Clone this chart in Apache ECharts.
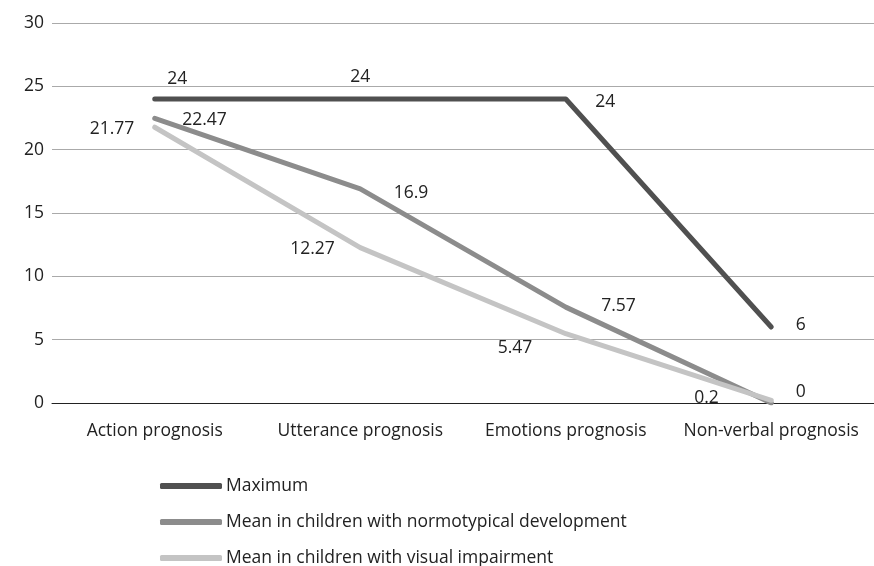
<!DOCTYPE html>
<html>
<head>
    <meta charset="UTF-8">
    <title>Prognosis chart</title>
    <script type="text/javascript" src="https://cdn.jsdelivr.net/npm/echarts@6/dist/echarts.min.js"></script>
    <style>
        body { margin: 0; background: #fff; }
    </style>
</head>
<body>
    <div id="main" style="width: 874px;height:566px;"></div>
    <script type="text/javascript">
        // 数据
        var categories = ['Action prognosis', 'Utterance prognosis', 'Emotions prognosis', 'Non-verbal prognosis'];
        var seriesNames = ['Maximum', 'Mean in children with normotypical development', 'Mean in children with visual impairment'];
        var maximum = [24, 24, 24, 6];
        var normotypical = [22.47, 16.9, 7.57, 0];
        var visualImpairment = [21.77, 12.27, 5.47, 0.2];
        var yTicks = [0, 5, 10, 15, 20, 25, 30];

        var colors = ['#505050', '#8c8c8c', '#c4c4c4'];
        var font = 'Open Sans';
        var fs = 17.5;

        // label placement per point (position, offset)
        var maxLabels = [['right', [7, -20]], ['top', [0, -7]], ['right', [24, 3]], ['right', [19, -2]]];
        var normLabels = [['right', [22, 2]], ['right', [28, 4]], ['right', [30, -1]], ['right', [19, -11]]];
        var visLabels = [['left', [-15, 2]], ['left', [-20, 1]], ['left', [-28, 14]], ['left', [-47, -2]]];

        function build(values, labels) {
            return values.map(function (v, i) {
                return {
                    value: v,
                    label: { position: labels[i][0], offset: labels[i][1] }
                };
            });
        }

        function line(name, values, labels, color) {
            return {
                name: name,
                type: 'line',
                data: build(values, labels),
                symbol: 'circle',
                symbolSize: 1,
                showSymbol: true,
                itemStyle: { color: color },
                lineStyle: { width: 5, color: color, cap: 'round', join: 'round' },
                label: {
                    show: true,
                    color: '#222',
                    fontFamily: font,
                    fontSize: fs
                },
                animation: false
            };
        }

        // one legend per row, stacked at the bottom
        var legends = seriesNames.map(function (name, i) {
            return {
                orient: 'vertical',
                left: 160,
                top: 477 + 36 * i,
                padding: 0,
                itemWidth: 62,
                itemHeight: 6,
                icon: 'roundRect',
                textStyle: { color: '#222', fontSize: fs, fontFamily: font, padding: [0, 0, 0, -1] },
                data: [name]
            };
        });

        var chart = echarts.init(document.getElementById('main'));
        chart.setOption({
            textStyle: { fontFamily: font },
            grid: {
                left: 52,
                right: 0,
                top: 23,
                bottom: 163
            },
            legend: legends,
            xAxis: {
                type: 'category',
                data: categories,
                axisTick: { show: false },
                axisLine: { lineStyle: { color: '#222', width: 1 } },
                axisLabel: { color: '#222', fontSize: fs, margin: 19, interval: 0, fontFamily: font }
            },
            yAxis: {
                type: 'value',
                min: yTicks[0],
                max: yTicks[yTicks.length - 1],
                interval: 5,
                axisLine: { show: false },
                axisTick: { show: false },
                axisLabel: { color: '#222', fontSize: fs, margin: 8, fontFamily: font },
                splitLine: { lineStyle: { color: '#aaa', width: 1 } }
            },
            series: [
                line(seriesNames[0], maximum, maxLabels, colors[0]),
                line(seriesNames[1], normotypical, normLabels, colors[1]),
                line(seriesNames[2], visualImpairment, visLabels, colors[2])
            ]
        });
    </script>
</body>
</html>
